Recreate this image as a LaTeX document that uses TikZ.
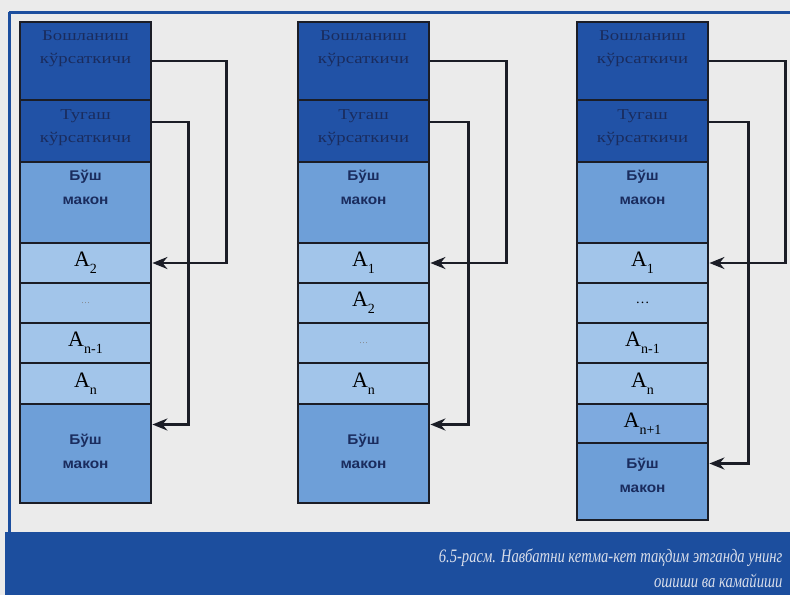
\documentclass[tikz,border=0pt]{standalone}
\usepackage{fontspec}
\setmainfont{Liberation Serif}
\newfontfamily\ptrfont[FakeStretch=1.25]{Liberation Serif}
\newfontfamily\freefont[FakeStretch=1.1]{Liberation Sans}
\newfontfamily\capfont[FakeStretch=0.77]{Liberation Serif}
\usepackage{xcolor}
\usetikzlibrary{arrows.meta}
\definecolor{pagebg}{HTML}{EBEBEB}
\definecolor{bandblue}{HTML}{1C4E9E}
\definecolor{ptrblue}{HTML}{2152A6}
\definecolor{freeblue}{HTML}{6E9FD8}
\definecolor{itemblue}{HTML}{A2C5EA}
\definecolor{newblue}{HTML}{7EAADF}
\definecolor{cellline}{HTML}{1B1D26}
\definecolor{ptrtext}{HTML}{1A2C5E}
\definecolor{captext}{HTML}{D9DEEA}
\newcommand{\lowidx}[1]{\raisebox{-0.32em}{\fontsize{14}{14}\selectfont #1}}

\begin{document}
\begin{tikzpicture}[x=1pt, y=-1pt, >={Stealth[length=15pt,width=12pt]},
  cell/.style={draw=cellline, line width=2.8pt, minimum width=131pt, inner sep=0pt},
  ptrcell/.style={cell, fill=ptrblue},
  freecell/.style={cell, fill=freeblue},
  itemcell/.style={cell, fill=itemblue, font=\fontsize{22}{22}\selectfont},
  ptrlabel/.style={align=center, text=ptrtext, font=\ptrfont\fontsize{15}{23}\selectfont},
  freelabel/.style={align=center, text=ptrtext, font=\freefont\bfseries\fontsize{14}{24}\selectfont},
  link/.style={draw=cellline, line width=2.4pt, ->}]
  \useasboundingbox (0,0) rectangle (790,595);
  \fill[pagebg] (0,0) rectangle (790,595);
  \draw[bandblue, line width=3pt] (9,12) -- (790,12);
  \draw[bandblue, line width=3pt] (9,12) -- (9,532);
  \fill[bandblue] (5,532) rectangle (790,595);

  % first column
  \node[ptrcell, minimum height=78] (start1) at (85.5,61) {};
  \node[ptrcell, minimum height=62] (tail1) at (85.5,131) {};
  \node[freecell, minimum height=81] (free1) at (85.5,202.5) {};
  \node[itemcell, minimum height=40] (a2) at (85.5,263) {A\lowidx{2}};
  \node[itemcell, minimum height=40, font=\fontsize{9}{9}\selectfont, text=gray] (dots1) at (85.5,303) {\dots};
  \node[itemcell, minimum height=40] (an1) at (85.5,343) {A\lowidx{n-1}};
  \node[itemcell, minimum height=41] (an) at (85.5,383.5) {A\lowidx{n}};
  \node[freecell, minimum height=99] (rest1) at (85.5,453.5) {};
  \node[ptrlabel] (start1t) at (85.5,49) {Бошланиш\\кўрсаткичи};
  \node[ptrlabel] (tail1t) at (85.5,128) {Тугаш\\кўрсаткичи};
  \node[freelabel] (free1t) at (85.5,187.5) {Бўш\\макон};
  \node[freelabel] (rest1t) at (85.5,451.5) {Бўш\\макон};
  \draw[link] (start1.east) -- ++(74,0) |- (a2.east);
  \draw[link] ([yshift=9pt]tail1.east) -- ++(36,0) |- ([yshift=29pt]rest1.east);

  % second column
  \node[ptrcell, minimum height=78] (start2) at (363.5,61) {};
  \node[ptrcell, minimum height=62] (tail2) at (363.5,131) {};
  \node[freecell, minimum height=81] (free2) at (363.5,202.5) {};
  \node[itemcell, minimum height=40] (b1) at (363.5,263) {A\lowidx{1}};
  \node[itemcell, minimum height=40] (b2) at (363.5,303) {A\lowidx{2}};
  \node[itemcell, minimum height=40, font=\fontsize{9}{9}\selectfont, text=gray] (dots2) at (363.5,343) {\dots};
  \node[itemcell, minimum height=41] (bn) at (363.5,383.5) {A\lowidx{n}};
  \node[freecell, minimum height=99] (rest2) at (363.5,453.5) {};
  \node[ptrlabel] (start2t) at (363.5,49) {Бошланиш\\кўрсаткичи};
  \node[ptrlabel] (tail2t) at (363.5,128) {Тугаш\\кўрсаткичи};
  \node[freelabel] (free2t) at (363.5,187.5) {Бўш\\макон};
  \node[freelabel] (rest2t) at (363.5,451.5) {Бўш\\макон};
  \draw[link] (start2.east) -- ++(76,0) |- (b1.east);
  \draw[link] ([yshift=9pt]tail2.east) -- ++(38,0) |- ([yshift=29pt]rest2.east);

  % third column
  \node[ptrcell, minimum height=78] (start3) at (642.5,61) {};
  \node[ptrcell, minimum height=62] (tail3) at (642.5,131) {};
  \node[freecell, minimum height=81] (free3) at (642.5,202.5) {};
  \node[itemcell, minimum height=40] (c1) at (642.5,263) {A\lowidx{1}};
  \node[itemcell, minimum height=40, font=\fontsize{14}{14}\selectfont] (dots3) at (642.5,303) {\dots};
  \node[itemcell, minimum height=40] (cn1) at (642.5,343) {A\lowidx{n-1}};
  \node[itemcell, minimum height=41] (cn) at (642.5,383.5) {A\lowidx{n}};
  \node[itemcell, fill=newblue, minimum height=39] (cnew) at (642.5,423.5) {A\lowidx{n+1}};
  \node[freecell, minimum height=77] (rest3) at (642.5,481.5) {};
  \node[ptrlabel] (start3t) at (642.5,49) {Бошланиш\\кўрсаткичи};
  \node[ptrlabel] (tail3t) at (642.5,128) {Тугаш\\кўрсаткичи};
  \node[freelabel] (free3t) at (642.5,187.5) {Бўш\\макон};
  \node[freelabel] (rest3t) at (642.5,475) {Бўш\\макон};
  \draw[link] (start3.east) -- ++(76,0) |- (c1.east);
  \draw[link] ([yshift=9pt]tail3.east) -- ++(39,0) |- ([yshift=18pt]rest3.east);

  % caption
  \node[anchor=north east, align=right, text=captext,
        font=\capfont\itshape\fontsize{19}{25}\selectfont] (caption) at (786,545)
    {6.5-расм. Навбатни кетма-кет тақдим этганда унинг\\ошиши ва камайиши};
\end{tikzpicture}
\end{document}
